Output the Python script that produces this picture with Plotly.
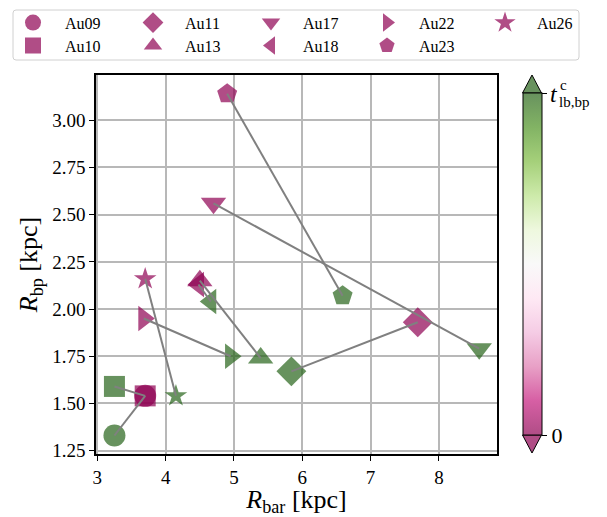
import plotly.graph_objects as go

# ---------------- data ----------------
names = ["Au09", "Au10", "Au11", "Au13", "Au17", "Au18", "Au22", "Au23", "Au26"]
symbols = ["circle", "square", "diamond", "triangle-up", "triangle-down",
           "triangle-left", "triangle-right", "pentagon", "star"]
sizes = [22, 21, 23, 22, 22, 22, 22, 21, 17]
# R_bar [kpc] at t=0 and at t = t^c_lb,bp
rbar_start = [3.70, 3.70, 7.69, 4.50, 4.70, 4.48, 3.68, 4.90, 3.70]
rbar_end = [3.25, 3.25, 5.84, 5.39, 8.59, 4.66, 4.95, 6.59, 4.15]
# R_bp [kpc]
rbp_start = [1.54, 1.54, 1.93, 2.15, 2.56, 2.13, 1.95, 3.14, 2.16]
rbp_end = [1.33, 1.59, 1.67, 1.74, 1.79, 2.04, 1.75, 2.07, 1.54]
t_norm = [0.0, 1.0]  # colour value: start (0) and end (t^c_lb,bp)

xticks = [3, 4, 5, 6, 7, 8]
yticks = [1.25, 1.50, 1.75, 2.00, 2.25, 2.50, 2.75, 3.00]

piyg = ["rgb(142,1,82)", "rgb(197,27,125)", "rgb(222,119,174)", "rgb(241,182,218)",
        "rgb(253,224,239)", "rgb(247,247,247)", "rgb(230,245,208)", "rgb(184,225,134)",
        "rgb(127,188,65)", "rgb(77,146,33)", "rgb(39,100,25)"]
ALPHA = 0.7


def blend(c):
    r, g, b = [int(v) for v in c[4:-1].split(",")]
    f = lambda v: round(v * ALPHA + 255 * (1 - ALPHA))
    return "rgb(%d,%d,%d)" % (f(r), f(g), f(b))


scale = [[i / (len(piyg) - 1), c] for i, c in enumerate(piyg)]
scale_bar = [[i / (len(piyg) - 1), blend(c)] for i, c in enumerate(piyg)]

FONT = "Liberation Serif, DejaVu Serif, serif"

# layout geometry (pixels)
L, R, T, B = 96, 497, 75, 454
W, H = R - L, B - T


def px(p):
    return (p - L) / W


def py(p):
    return (B - p) / H


# legend layout: 5 columns x 2 rows, column-major
col_x = [33, 153, 271, 387, 505]
row_y = [22.7, 45.7]
ITEMW = 54

fig = go.Figure()

for i, n in enumerate(names):
    lg = "legend" if i == 0 else "legend%d" % (i + 1)
    fig.add_trace(go.Scatter(
        x=[rbar_start[i], rbar_end[i]], y=[rbp_start[i], rbp_end[i]],
        mode="markers", name=n, showlegend=True, legend=lg,
        marker=dict(symbol=symbols[i], size=sizes[i], color=t_norm,
                    colorscale=scale, cmin=0, cmax=1, opacity=ALPHA,
                    line=dict(width=0))))

for i, n in enumerate(names):
    fig.add_trace(go.Scatter(
        x=[rbar_start[i], rbar_end[i]], y=[rbp_start[i], rbp_end[i]],
        mode="lines", showlegend=False, hoverinfo="skip",
        line=dict(color="#808080", width=2)))

# colour bar (blended colours, as drawn with alpha)
fig.add_trace(go.Scatter(
    x=[rbar_start[0]], y=[rbp_start[0]], mode="markers", showlegend=False,
    hoverinfo="skip",
    marker=dict(size=1, opacity=0, color=[0], colorscale=scale_bar, cmin=0, cmax=1,
                showscale=True,
                colorbar=dict(x=px(522.5), xanchor="left", xpad=0, ypad=0,
                              y=py(264), yanchor="middle", len=342, lenmode="pixels",
                              thickness=19, outlinewidth=1, outlinecolor="black",
                              tickvals=[0, 1], ticktext=["0", ""], ticks="outside",
                              ticklen=5, tickwidth=1, tickcolor="black",
                              tickfont=dict(family=FONT, size=22, color="black")))))

# colour bar extension triangles
x0p, x1p = px(522.5), px(541.5)
xm = (x0p + x1p) / 2
fig.add_shape(type="path", xref="paper", yref="paper",
              path=f"M {x0p},{py(93)} L {xm},{py(75)} L {x1p},{py(93)} Z",
              fillcolor=blend(piyg[-1]), line=dict(color="black", width=1))
fig.add_shape(type="path", xref="paper", yref="paper",
              path=f"M {x0p},{py(435)} L {xm},{py(453)} L {x1p},{py(435)} Z",
              fillcolor=blend(piyg[0]), line=dict(color="black", width=1))

# legend frame (rounded)
fx0, fx1, fy0, fy1, rr = 13, 579, 10, 60, 3
frame = (f"M {px(fx0 + rr)},{py(fy0)} L {px(fx1 - rr)},{py(fy0)} "
         f"Q {px(fx1)},{py(fy0)} {px(fx1)},{py(fy0 + rr)} L {px(fx1)},{py(fy1 - rr)} "
         f"Q {px(fx1)},{py(fy1)} {px(fx1 - rr)},{py(fy1)} L {px(fx0 + rr)},{py(fy1)} "
         f"Q {px(fx0)},{py(fy1)} {px(fx0)},{py(fy1 - rr)} L {px(fx0)},{py(fy0 + rr)} "
         f"Q {px(fx0)},{py(fy0)} {px(fx0 + rr)},{py(fy0)} Z")
fig.add_shape(type="path", xref="paper", yref="paper", path=frame,
              fillcolor="white", line=dict(color="#d0d0d0", width=1), layer="above")

# top colour bar label t^c_lb,bp
fig.add_annotation(xref="paper", yref="paper", x=px(548), y=py(94),
                   xanchor="left", yanchor="middle", showarrow=False,
                   text="<i>t</i>", font=dict(family=FONT, size=24, color="black"))
fig.add_annotation(xref="paper", yref="paper", x=px(558), y=py(85),
                   xanchor="left", yanchor="middle", showarrow=False,
                   text="c", font=dict(family=FONT, size=15, color="black"))
fig.add_annotation(xref="paper", yref="paper", x=px(557), y=py(102),
                   xanchor="left", yanchor="middle", showarrow=False,
                   text="lb,bp", font=dict(family=FONT, size=15, color="black"))
# colour bar title (mostly outside the canvas, as in the reference)
fig.add_annotation(xref="paper", yref="paper", x=px(619), y=py(266),
                   xanchor="center", yanchor="middle", showarrow=False, textangle=-90,
                   text="<i>t</i> [Gyr]", font=dict(family=FONT, size=24, color="black"))

axis_common = dict(showline=True, linecolor="black", linewidth=1.5, mirror=True,
                   showgrid=True, gridcolor="#b8b8b8", gridwidth=1.5, zeroline=False,
                   ticks="outside", ticklen=5, tickwidth=1.2, tickcolor="black",
                   tickfont=dict(family=FONT, size=19, color="black"))

layout = dict(
    width=607, height=517,
    margin=dict(l=L, r=607 - R, t=T, b=517 - B, autoexpand=False),
    plot_bgcolor="white", paper_bgcolor="white",
    font=dict(family=FONT, color="black"),
    xaxis=dict(range=[2.98, 8.85], tickvals=xticks, ticktext=[str(v) for v in xticks],
               title=dict(text="<i>R</i><sub>bar</sub> [kpc]", standoff=6,
                          font=dict(family=FONT, size=26)),
               **axis_common),
    yaxis=dict(range=[1.232, 3.24], tickvals=yticks,
               ticktext=["%.2f" % v for v in yticks],
               title=dict(text="<i>R</i><sub>bp</sub> [kpc]", standoff=7,
                          font=dict(family=FONT, size=26)),
               **axis_common),
)
for i in range(len(names)):
    key = "legend" if i == 0 else "legend%d" % (i + 1)
    c, r = i // 2, i % 2
    layout[key] = dict(orientation="v", x=px(col_x[c] - ITEMW / 2 - 5), xanchor="left",
                       y=py(row_y[r]), yanchor="middle", borderwidth=0,
                       bgcolor="rgba(0,0,0,0)", itemwidth=ITEMW,
                       font=dict(family=FONT, size=16, color="black"))
fig.update_layout(**layout)

fig.write_html("out.html")
